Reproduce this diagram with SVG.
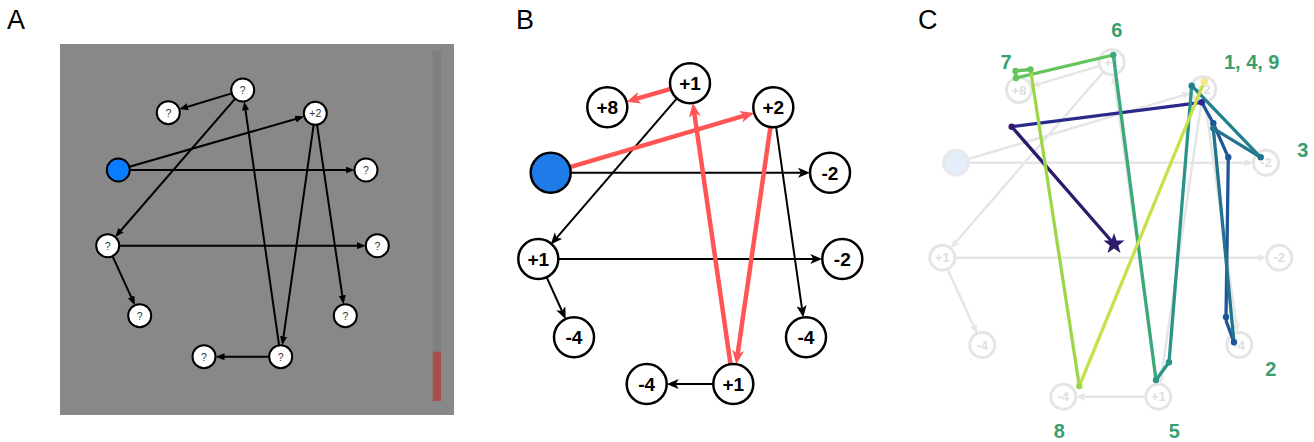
<svg xmlns="http://www.w3.org/2000/svg" width="1314" height="442" viewBox="0 0 1314 442">
<style>
.panel{font-family:"Liberation Sans",Arial,sans-serif;font-size:27px;fill:#000}
.na{fill:#fff;stroke:#000;stroke-width:2}
.ta{font-family:"Liberation Sans",Arial,sans-serif;font-size:10.5px;fill:#333;text-anchor:middle}
.ea{stroke:#000;stroke-width:2;fill:none;marker-end:url(#ma)}
.nb{fill:#fff;stroke:#000;stroke-width:2.5}
.tb{font-family:"Liberation Sans",Arial,sans-serif;font-weight:bold;font-size:19px;fill:#000;text-anchor:middle}
.eb{stroke:#000;stroke-width:2;fill:none;marker-end:url(#mb)}
.er{stroke:#ff5555;stroke-width:4.5;fill:none;marker-end:url(#mr)}
.nc{fill:#fff;stroke:#e5e5e5;stroke-width:3}
.tc{font-family:"Liberation Sans",Arial,sans-serif;font-weight:bold;font-size:13px;fill:#dedede;text-anchor:middle}
.ec{stroke:#e5e5e5;stroke-width:2.5;fill:none;marker-end:url(#mc)}
.lab{font-family:"Liberation Sans",Arial,sans-serif;font-weight:bold;font-size:20px;fill:#3a9e6e;text-anchor:middle}
.tr{fill:none;stroke-width:3.3;stroke-linejoin:round;stroke-linecap:round}
</style>
<defs>
<marker id="ma" markerUnits="userSpaceOnUse" viewBox="0 0 9 7" refX="1" refY="3.5" markerWidth="9" markerHeight="7" orient="auto"><path d="M0,0 L9,3.5 L0,7 z" fill="#000"/></marker>
<marker id="mb" markerUnits="userSpaceOnUse" viewBox="0 0 12 10" refX="3" refY="5" markerWidth="12" markerHeight="10" orient="auto"><path d="M0,0 L12,5 L0,10 L3,5 z" fill="#000"/></marker>
<marker id="mr" markerUnits="userSpaceOnUse" viewBox="0 0 14 12" refX="4" refY="6" markerWidth="14" markerHeight="12" orient="auto"><path d="M0,0 L14,6 L0,12 L4,6 z" fill="#ff5555"/></marker>
<marker id="mc" markerUnits="userSpaceOnUse" viewBox="0 0 10 8" refX="3" refY="4" markerWidth="10" markerHeight="8" orient="auto"><path d="M0,0 L10,4 L0,8 L3,4 z" fill="#e5e5e5"/></marker>
</defs>
<rect width="1314" height="442" fill="#fff"/>
<text class="panel" x="7" y="28.5">A</text>
<text class="panel" x="516" y="28.5">B</text>
<text class="panel" x="918" y="28.5">C</text>

<!-- Panel A -->
<rect x="60" y="44" width="394" height="371" fill="#888888"/>
<rect x="432.7" y="50.7" width="8.3" height="301" fill="#808080"/>
<rect x="432.7" y="351.7" width="8.3" height="49.3" fill="#a94c4c"/>
<g id="connectors-A">
<line class="ea" x1="231.7" y1="93.4" x2="186.9" y2="107"/>
<line class="ea" x1="235.2" y1="98.7" x2="120.4" y2="231"/>
<line class="ea" x1="129.3" y1="166.8" x2="296.6" y2="118.7"/>
<line class="ea" x1="129.8" y1="170" x2="346.5" y2="170"/>
<line class="ea" x1="313.7" y1="124.7" x2="283.4" y2="337.4"/>
<line class="ea" x1="317" y1="124.7" x2="342.4" y2="296.4"/>
<line class="ea" x1="279.1" y1="345.3" x2="245.4" y2="109.3"/>
<line class="ea" x1="119.2" y1="245.7" x2="357.8" y2="245.7"/>
<line class="ea" x1="112.5" y1="256.2" x2="131.6" y2="297.9"/>
<line class="ea" x1="269.2" y1="356.7" x2="223.5" y2="356.7"/>
</g>
<g id="a-start"><circle cx="118.3" cy="170" r="11.5" fill="#0a7cff" stroke="#000" stroke-width="2"/></g>
<g id="a-n1"><circle class="na" cx="242.7" cy="90" r="11.5"/><text class="ta" x="242.7" y="93.8">?</text></g>
<g id="a-n2"><circle class="na" cx="168.3" cy="112.7" r="11.5"/><text class="ta" x="168.3" y="116.5">?</text></g>
<g id="a-n3"><circle class="na" cx="315.3" cy="113.3" r="11.5"/><text class="ta" x="315.3" y="117.1">+2</text></g>
<g id="a-n4"><circle class="na" cx="366" cy="170" r="11.5"/><text class="ta" x="366" y="173.8">?</text></g>
<g id="a-n5"><circle class="na" cx="107.7" cy="245.7" r="11.5"/><text class="ta" x="107.7" y="249.5">?</text></g>
<g id="a-n6"><circle class="na" cx="377.3" cy="245.7" r="11.5"/><text class="ta" x="377.3" y="249.5">?</text></g>
<g id="a-n7"><circle class="na" cx="139.7" cy="315.7" r="11.5"/><text class="ta" x="139.7" y="319.5">?</text></g>
<g id="a-n8"><circle class="na" cx="345.3" cy="315.7" r="11.5"/><text class="ta" x="345.3" y="319.5">?</text></g>
<g id="a-n9"><circle class="na" cx="204" cy="356.7" r="11.5"/><text class="ta" x="204" y="360.5">?</text></g>
<g id="a-n10"><circle class="na" cx="280.7" cy="356.7" r="11.5"/><text class="ta" x="280.7" y="360.5">?</text></g>

<!-- Panel B -->
<g id="connectors-B">
<line class="eb" x1="676.9" y1="98.4" x2="556.6" y2="237.8"/>
<line class="eb" x1="570.7" y1="172.7" x2="801" y2="172.7"/>
<line class="eb" x1="776.1" y1="127.1" x2="802" y2="308.6"/>
<line class="eb" x1="558.3" y1="259" x2="813.3" y2="259"/>
<line class="eb" x1="546.6" y1="277.2" x2="562" y2="311"/>
<line class="eb" x1="713.3" y1="384" x2="675.7" y2="384"/>
<line class="er" x1="670.8" y1="88.9" x2="636.1" y2="98.9"/>
<line class="er" x1="569.9" y1="167.1" x2="744.5" y2="115.7"/>
<line class="er" x1="770.4" y1="127.1" x2="737.6" y2="354.3"/>
<line class="er" x1="730.5" y1="364.2" x2="694.3" y2="113"/>
</g>
<g id="b-start"><circle cx="550.7" cy="172.7" r="20" fill="#1f7be8" stroke="#000" stroke-width="2.5"/></g>
<g id="b-n1"><circle class="nb" cx="690" cy="83.3" r="20"/><text class="tb" x="690" y="90.1">+1</text></g>
<g id="b-n2"><circle class="nb" cx="607.3" cy="107.3" r="20"/><text class="tb" x="607.3" y="114.1">+8</text></g>
<g id="b-n3"><circle class="nb" cx="773.3" cy="107.3" r="20"/><text class="tb" x="773.3" y="114.1">+2</text></g>
<g id="b-n4"><circle class="nb" cx="830" cy="172.7" r="20"/><text class="tb" x="830" y="179.5">-2</text></g>
<g id="b-n5"><circle class="nb" cx="538.3" cy="259" r="20"/><text class="tb" x="538.3" y="265.8">+1</text></g>
<g id="b-n6"><circle class="nb" cx="842.3" cy="259" r="20"/><text class="tb" x="842.3" y="265.8">-2</text></g>
<g id="b-n7"><circle class="nb" cx="574" cy="337.3" r="20"/><text class="tb" x="574" y="344.1">-4</text></g>
<g id="b-n8"><circle class="nb" cx="806" cy="337.3" r="20"/><text class="tb" x="806" y="344.1">-4</text></g>
<g id="b-n9"><circle class="nb" cx="646.7" cy="384" r="20"/><text class="tb" x="646.7" y="390.8">-4</text></g>
<g id="b-n10"><circle class="nb" cx="733.3" cy="384" r="20"/><text class="tb" x="733.3" y="390.8">+1</text></g>

<!-- Panel C -->
<g id="connectors-C">
<line class="ec" x1="1099.7" y1="65.9" x2="1037.7" y2="84.4"/>
<line class="ec" x1="1103.5" y1="71.7" x2="955.1" y2="243"/>
<line class="ec" x1="968" y1="159.1" x2="1184.6" y2="94.9"/>
<line class="ec" x1="968.5" y1="162.7" x2="1246.5" y2="162.7"/>
<line class="ec" x1="1201.5" y1="101.7" x2="1161.1" y2="377.4"/>
<line class="ec" x1="1205" y1="101.7" x2="1236.6" y2="325.7"/>
<line class="ec" x1="1156.6" y1="384.3" x2="1114.4" y2="81.6"/>
<line class="ec" x1="954.8" y1="257.7" x2="1259.8" y2="257.7"/>
<line class="ec" x1="947.5" y1="269.1" x2="974.2" y2="327.2"/>
<line class="ec" x1="1145.8" y1="396.7" x2="1082.8" y2="396.7"/>
</g>
<g id="c-start"><circle cx="956" cy="162.7" r="12.5" fill="#e4eefb" stroke="#e8e8e8" stroke-width="3"/></g>
<g id="c-n1"><circle class="nc" cx="1111.7" cy="62.3" r="12.5"/><text class="tc" x="1111.7" y="67">+1</text></g>
<g id="c-n2"><circle class="nc" cx="1019" cy="90" r="12.5"/><text class="tc" x="1019" y="94.7">+8</text></g>
<g id="c-n3"><circle class="nc" cx="1203.3" cy="89.3" r="12.5"/><text class="tc" x="1203.3" y="94">+2</text></g>
<g id="c-n4"><circle class="nc" cx="1266" cy="162.7" r="12.5"/><text class="tc" x="1266" y="167.4">-2</text></g>
<g id="c-n5"><circle class="nc" cx="942.3" cy="257.7" r="12.5"/><text class="tc" x="942.3" y="262.4">+1</text></g>
<g id="c-n6"><circle class="nc" cx="1279.3" cy="257.7" r="12.5"/><text class="tc" x="1279.3" y="262.4">-2</text></g>
<g id="c-n7"><circle class="nc" cx="982.3" cy="345" r="12.5"/><text class="tc" x="982.3" y="349.7">-4</text></g>
<g id="c-n8"><circle class="nc" cx="1239.3" cy="345" r="12.5"/><text class="tc" x="1239.3" y="349.7">-4</text></g>
<g id="c-n9"><circle class="nc" cx="1063.3" cy="396.7" r="12.5"/><text class="tc" x="1063.3" y="401.4">-4</text></g>
<g id="c-n10"><circle class="nc" cx="1158.3" cy="396.7" r="12.5"/><text class="tc" x="1158.3" y="401.4">+1</text></g>

<g id="trajectory">
<polyline class="tr" stroke="#2e1b6c" points="1114,244 1011.7,126.7"/>
<polyline class="tr" stroke="#2a2a8c" points="1011.7,126.7 1201.7,102.3"/>
<polyline class="tr" stroke="#1f5699" points="1201.7,102.3 1213.3,123.3 1228.3,157.3 1226,317 1226.5,322 1234,342.3"/>
<polyline class="tr" stroke="#23738e" points="1234,342.3 1213.3,128.3 1260.7,157.3"/>
<polyline class="tr" stroke="#22818c" points="1260.7,157.3 1191.7,85.7"/>
<polyline class="tr" stroke="#2a9488" points="1191.7,85.7 1169,362.3 1156,380"/>
<polyline class="tr" stroke="#3ba878" points="1156,380 1113.3,55"/>
<polyline class="tr" stroke="#64c45c" points="1113.3,55 1016,78 1015.5,71 1030.5,69.5"/>
<polyline class="tr" stroke="#9dd64b" points="1030.5,69.5 1079.3,386"/>
<polyline class="tr" stroke="#c8e04c" points="1079.3,386 1204.3,81.7"/>
<g stroke="none">
<circle cx="1011.7" cy="126.7" r="3.2" fill="#2e1b6c"/>
<circle cx="1201.7" cy="102.3" r="3.2" fill="#2a2a8c"/>
<circle cx="1213.3" cy="123.3" r="3.2" fill="#1f5699"/>
<circle cx="1228.3" cy="157.3" r="3.2" fill="#1f5699"/>
<circle cx="1226" cy="317" r="3.2" fill="#1f5699"/>
<circle cx="1234" cy="342.3" r="3.2" fill="#1f5699"/>
<circle cx="1213.3" cy="128.3" r="3.2" fill="#23738e"/>
<circle cx="1260.7" cy="157.3" r="3.2" fill="#23738e"/>
<circle cx="1191.7" cy="85.7" r="3.2" fill="#22818c"/>
<circle cx="1169" cy="362.3" r="3.2" fill="#2a9488"/>
<circle cx="1156" cy="380" r="3.2" fill="#2a9488"/>
<circle cx="1113.3" cy="55" r="3.2" fill="#3ba878"/>
<circle cx="1016" cy="78" r="3.2" fill="#64c45c"/>
<circle cx="1015.5" cy="71" r="3.2" fill="#64c45c"/>
<circle cx="1030.5" cy="69.5" r="3.2" fill="#64c45c"/>
<circle cx="1079.3" cy="386" r="3.2" fill="#9dd64b"/>
<circle cx="1204.3" cy="81.7" r="3.8" fill="#f6e68c"/>
</g>
<polygon fill="#2e1b6c" points="1114,233 1116.6,240.4 1124.5,240.6 1118.3,245.4 1120.5,252.9 1114,248.5 1107.5,252.9 1109.7,245.4 1103.5,240.6 1111.4,240.4"/>
</g>
<g id="step-labels">
<text class="lab" x="1116.7" y="37">6</text>
<text class="lab" x="1006" y="68.5">7</text>
<text class="lab" x="1251.7" y="68.5">1, 4, 9</text>
<text class="lab" x="1302.7" y="157">3</text>
<text class="lab" x="1270.7" y="375.5">2</text>
<text class="lab" x="1059.3" y="437.5">8</text>
<text class="lab" x="1174.3" y="437.5">5</text>
</g>
</svg>
